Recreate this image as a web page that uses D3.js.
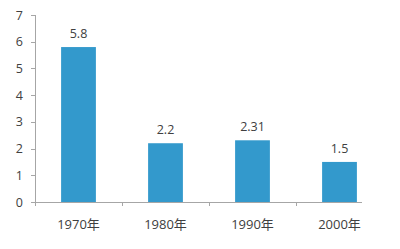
<!DOCTYPE html>
<html>
<head>
<meta charset="utf-8">
<script src="https://cdn.jsdelivr.net/npm/d3@7"></script>
<style>
  body { margin: 0; background: #fff; }
  text { font-family: "Open Sans", "Noto Sans CJK SC", sans-serif; fill: #404040; }
</style>
</head>
<body>
<div id="chart"></div>
<script>
// 데이터
const years = ["1970年", "1980年", "1990年", "2000年"];
const values = [5.8, 2.2, 2.31, 1.5];
const valueLabels = ["5.8", "2.2", "2.31", "1.5"];
const yTicks = [0, 1, 2, 3, 4, 5, 6, 7];

const width = 400, height = 249;
const marginLeft = 35, plotTop = 15, plotBottom = 202;

const svg = d3.select("#chart").append("svg")
  .attr("width", width)
  .attr("height", height);

const x = d3.scaleBand().domain(years).range([marginLeft, marginLeft + 87 * 4]).paddingInner(0.6).paddingOuter(0.3);
const y = d3.scaleLinear().domain([0, 7]).range([plotBottom, plotTop]);

const axisColor = "#a6a6a6";

// y축
svg.append("line")
  .attr("x1", marginLeft + 0.5).attr("x2", marginLeft + 0.5)
  .attr("y1", y(7)).attr("y2", y(0))
  .attr("stroke", axisColor);

yTicks.forEach(t => {
  svg.append("line")
    .attr("x1", marginLeft - 4).attr("x2", marginLeft)
    .attr("y1", Math.round(y(t)) + 0.5).attr("y2", Math.round(y(t)) + 0.5)
    .attr("stroke", axisColor);
  svg.append("text")
    .attr("x", marginLeft - 12)
    .attr("y", y(t) + 4.5)
    .attr("text-anchor", "end")
    .attr("font-size", "12.5px")
    .text(t);
});

// 막대
svg.selectAll(".bar")
  .data(values)
  .enter()
  .append("rect")
  .attr("class", "bar")
  .attr("x", (d, i) => x(years[i]))
  .attr("width", x.bandwidth())
  .attr("y", d => y(d))
  .attr("height", d => y(0) - y(d))
  .attr("fill", "#3399cc");

// x축
svg.append("line")
  .attr("x1", marginLeft).attr("x2", marginLeft + 87 * 3 + 66)
  .attr("y1", Math.round(y(0)) + 0.5).attr("y2", Math.round(y(0)) + 0.5)
  .attr("stroke", axisColor);

years.forEach((yr, i) => {
  const edge = x(yr) - x.step() * x.paddingInner() / 2;
  const xe = i === 0 ? marginLeft : edge;
  svg.append("line")
    .attr("x1", Math.round(xe) + 0.5).attr("x2", Math.round(xe) + 0.5)
    .attr("y1", y(0)).attr("y2", y(0) + 4)
    .attr("stroke", axisColor);
  svg.append("text")
    .attr("x", x(yr) + x.bandwidth() / 2)
    .attr("y", 229)
    .attr("text-anchor", "middle")
    .attr("font-size", "13px")
    .text(yr);
});

// 값 라벨
values.forEach((v, i) => {
  svg.append("text")
    .attr("x", x(years[i]) + x.bandwidth() / 2)
    .attr("y", y(v) - 9)
    .attr("text-anchor", "middle")
    .attr("font-size", "12.5px")
    .text(valueLabels[i]);
});
</script>
</body>
</html>
